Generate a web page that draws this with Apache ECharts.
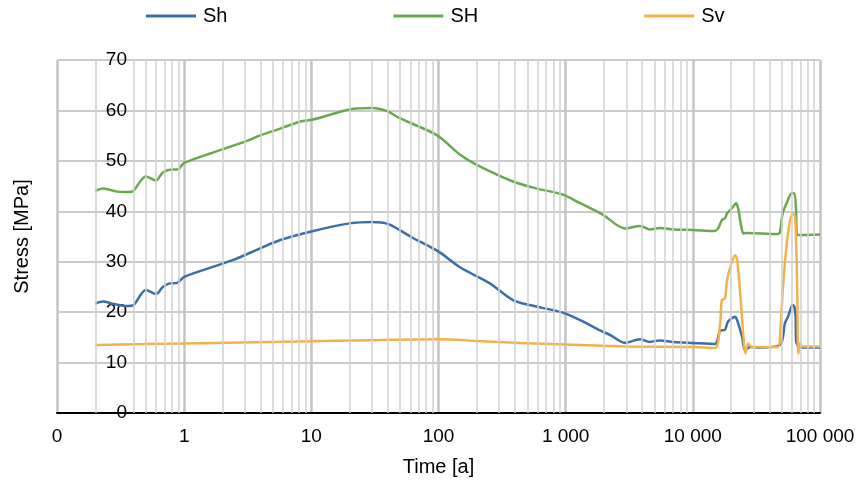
<!DOCTYPE html>
<html>
<head>
<meta charset="utf-8">
<script src="https://cdn.jsdelivr.net/npm/echarts@6/dist/echarts.min.js"></script>
<style>
  html, body { margin: 0; padding: 0; background: #fff; }
  #chart { width: 860px; height: 486px; }
</style>
</head>
<body>
<div id="chart"></div>
<script>
// values, time in years (log axis)
const shTime = [0.2, 0.23, 0.28, 0.36, 0.4, 0.5, 0.6, 0.68, 0.77, 0.88, 1, 2.4, 4, 5.7, 10, 20, 30, 40, 63, 100, 150, 250, 385, 520, 950, 1300, 1965, 2230, 2930, 3840, 4600, 5500, 7000, 10000, 14900, 16400, 17900, 18900, 21500, 22300, 24400, 25700, 28200, 33700, 48500, 53000, 56000, 61000, 62800, 64300, 64800, 66300, 69600, 100000]
const shVal  = [21.7, 22.1, 21.6, 21.2, 21.4, 24.4, 23.6, 25.0, 25.7, 25.8, 27.0, 30.3, 32.7, 34.3, 36.0, 37.6, 37.9, 37.5, 34.7, 32.0, 28.8, 25.8, 22.4, 21.4, 19.9, 18.4, 16.1, 15.5, 13.9, 14.6, 14.1, 14.4, 14.1, 13.9, 13.7, 16.3, 16.5, 18.1, 19.1, 18.4, 15.1, 12.5, 13.1, 13.0, 13.5, 17.8, 19.1, 21.4, 21.1, 19.1, 14.5, 13.5, 13.0, 13.0]

const bigShTime = [0.2, 0.23, 0.3, 0.375, 0.4, 0.5, 0.6, 0.68, 0.8, 0.89, 1, 3, 4, 5.7, 8.2, 10.3, 20, 30, 39, 50, 97, 148, 200, 385, 594, 950, 1300, 1965, 2930, 3840, 4600, 5500, 7000, 10000, 14900, 15800, 16950, 17900, 18600, 20300, 21900, 22700, 23800, 25000, 26200, 46750, 48450, 50900, 54700, 59900, 62800, 64800, 65600, 67500, 100000]
const bigShVal  = [44.0, 44.5, 43.9, 43.8, 44.1, 46.9, 46.1, 47.7, 48.3, 48.3, 49.6, 53.8, 55.1, 56.4, 57.8, 58.2, 60.2, 60.5, 59.9, 58.4, 55.1, 51.2, 49.2, 45.9, 44.5, 43.3, 41.6, 39.3, 36.6, 37.1, 36.4, 36.7, 36.4, 36.3, 36.1, 36.6, 38.3, 38.6, 39.6, 40.6, 41.6, 40.6, 37.6, 35.6, 35.7, 35.5, 35.9, 39.6, 41.6, 43.6, 43.6, 40.3, 35.6, 35.3, 35.4]

const svTime = [0.2, 1, 8, 30, 100, 200, 440, 2230, 2930, 10000, 14900, 16400, 16900, 17900, 18600, 20300, 21500, 22400, 23800, 25000, 25900, 27200, 29200, 46750, 48450, 51400, 56000, 61000, 63600, 65400, 66300, 67500, 69600, 73500, 100000]
const svVal  = [13.5, 13.8, 14.2, 14.45, 14.6, 14.3, 13.9, 13.3, 13.2, 13.1, 12.9, 17.8, 22.4, 22.7, 26.4, 30.0, 31.3, 30.0, 22.4, 15.1, 11.8, 13.8, 13.1, 13.1, 15.1, 25.7, 35.6, 39.6, 38.9, 31.0, 23.1, 11.8, 13.8, 13.2, 13.2]

const seriesNames = ['Sh', 'SH', 'Sv']
const seriesColors = ['#3d6ea8', '#6aa84f', '#f2b24a']

// minor vertical gridlines (2..9 in each decade), 0.3 is hidden behind the y labels in the original
const minorGrid = []
;[0.1, 1, 10, 100, 1000, 10000].forEach(d => {
  for (let m = 2; m <= 9; m++) {
    if (d === 0.1 && m === 3) continue
    minorGrid.push(+(d * m).toPrecision(3))
  }
})

const zip = (xs, ys) => xs.map((x, i) => [x, ys[i]])

const chart = echarts.init(document.getElementById('chart'))
const font = 'Liberation Sans, Arial, sans-serif'

const lineSeries = [[shTime, shVal], [bigShTime, bigShVal], [svTime, svVal]].map((s, i) => ({
  name: seriesNames[i],
  type: 'line',
  data: zip(s[0], s[1]),
  smooth: 0.3,
  symbol: 'none',
  z: 3,
  lineStyle: { color: seriesColors[i], width: 2.5 },
  itemStyle: { color: seriesColors[i] }
}))

chart.setOption({
  animation: false,
  textStyle: { fontFamily: font },
  legend: {
    data: seriesNames,
    left: 146,
    top: 6,
    padding: 0,
    icon: 'rect',
    itemWidth: 50,
    itemHeight: 3,
    itemGap: 166,
    textStyle: { fontSize: 20, color: '#000', fontFamily: font, padding: [0, 0, 0, 2] }
  },
  grid: { left: 57, right: 40, top: 60, bottom: 73 },
  xAxis: {
    type: 'log',
    logBase: 10,
    min: 0.1,
    max: 100000,
    name: 'Time [a]',
    nameLocation: 'middle',
    nameGap: 44,
    nameTextStyle: { fontSize: 20, color: '#000', fontFamily: font },
    axisLine: { show: true, onZero: false, lineStyle: { color: '#000', width: 2 } },
    axisTick: { show: false },
    axisLabel: {
      fontSize: 19, color: '#000', margin: 14, fontFamily: font,
      formatter: v => v < 1 ? '0' : String(Math.round(v)).replace(/\B(?=(\d{3})+(?!\d))/g, ' ')
    },
    splitLine: { show: true, lineStyle: { color: '#c4c4c4', width: 2.5 } }
  },
  yAxis: {
    type: 'value',
    min: 0,
    max: 70,
    interval: 10,
    name: 'Stress [MPa]',
    nameLocation: 'middle',
    nameGap: 25,
    nameTextStyle: { fontSize: 20, color: '#000', fontFamily: font },
    axisLine: { show: false },
    axisTick: { show: false },
    axisLabel: { fontSize: 19, color: '#000', margin: -70, fontFamily: font },
    splitLine: { show: true, lineStyle: { color: '#cbcbcb', width: 2 } }
  },
  series: [{
    name: 'grid',
    type: 'line',
    data: [],
    z: 1,
    markLine: {
      silent: true,
      symbol: 'none',
      label: { show: false },
      lineStyle: { color: '#d0d0d0', width: 1.5, type: 'solid' },
      data: minorGrid.map(v => ({ xAxis: v }))
    }
  }].concat(lineSeries)
})
</script>
</body>
</html>
